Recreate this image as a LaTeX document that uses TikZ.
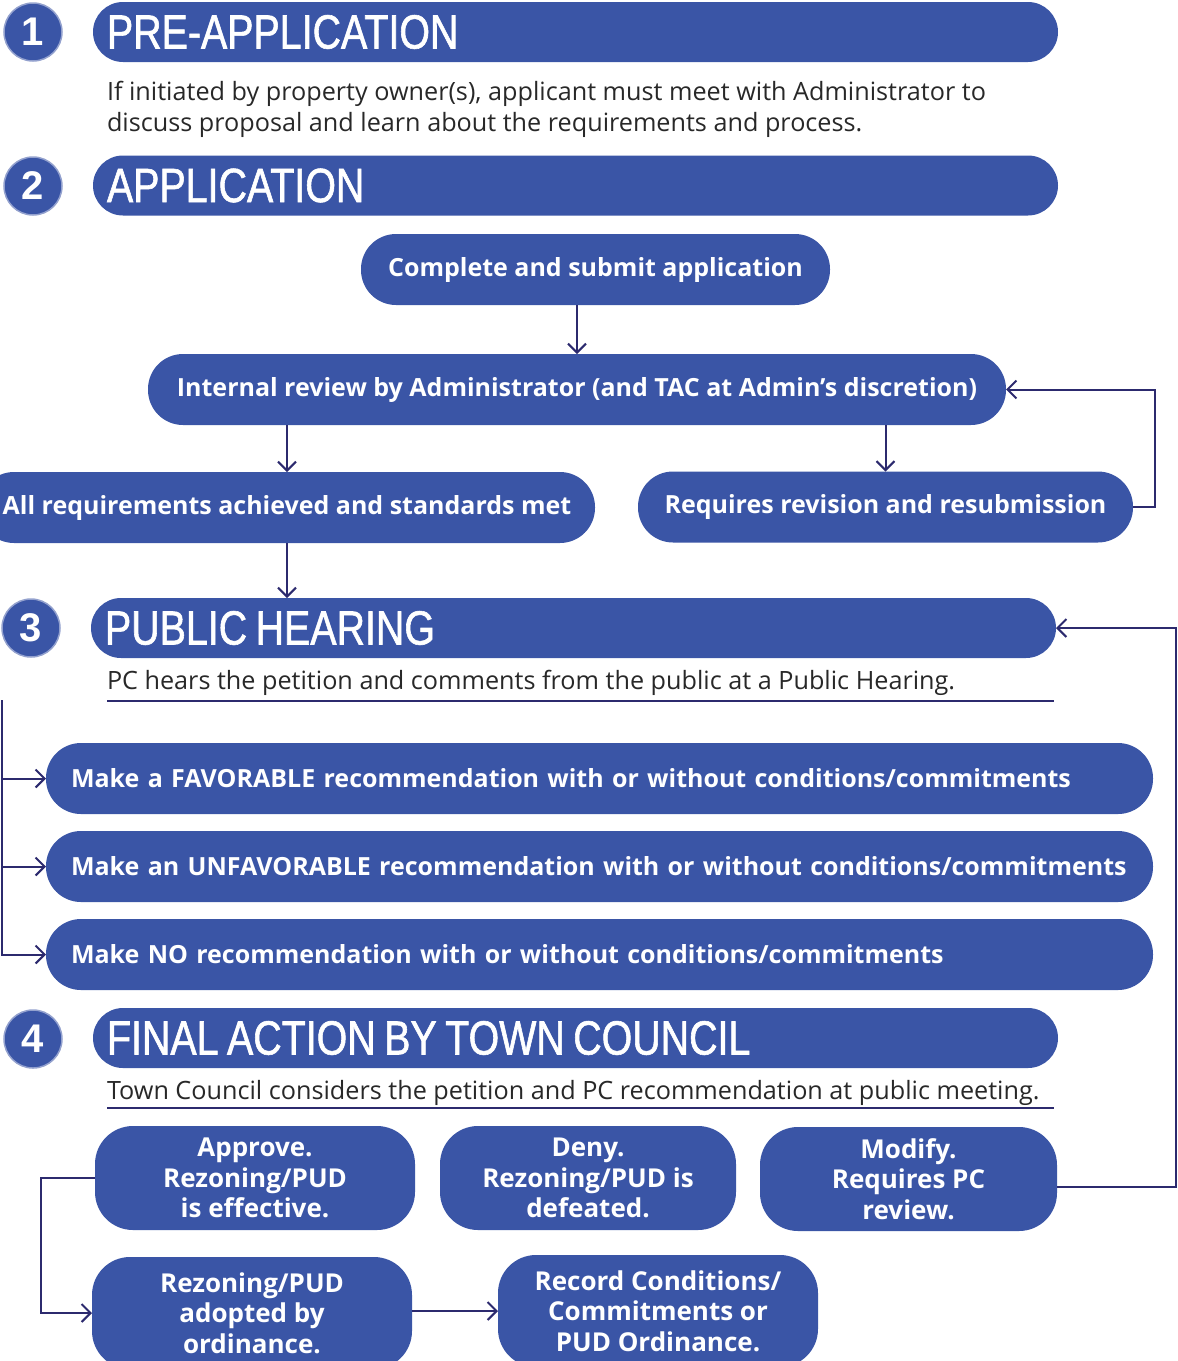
\documentclass[tikz,border=0pt]{standalone}
\usepackage{fontspec}
\setmainfont{Open Sans}
\newfontfamily\titlefont[FakeStretch=0.82,FakeBold=1.2]{Liberation Sans}
\newfontfamily\numfont{Liberation Sans}
\newcommand\tsp{\hspace{8.5pt}}
\usetikzlibrary{arrows.meta,calc}
\definecolor{boxblue}{RGB}{58,85,166}
\definecolor{linenavy}{RGB}{44,42,110}
\definecolor{txtgray}{RGB}{40,40,40}
\begin{document}
\begin{tikzpicture}[x=1pt,y=-1pt,
  every node/.style={inner sep=0pt, outer sep=0pt},
  numcirc/.style={circle, fill=boxblue, draw=boxblue!55, line width=1.5pt, minimum size=58pt, text=white, font=\numfont\bfseries\fontsize{40}{40}\selectfont},
  titlebar/.style={fill=boxblue, rounded corners=30pt, minimum height=60pt, text width=937pt, inner xsep=14pt, align=left, text=white, font=\titlefont\fontsize{48}{48}\selectfont},
  desc/.style={text=txtgray, align=left, anchor=west, font=\fontsize{25.2}{31}\selectfont},
  pill/.style={fill=boxblue, rounded corners=35pt, minimum height=71pt, text=white, align=center, font=\bfseries\fontsize{25}{28}\selectfont},
  recbox/.style={fill=boxblue, rounded corners=35pt, minimum height=71pt, text width=1057pt, inner xsep=25pt, align=left, text=white, font=\bfseries\fontsize{25}{28}\selectfont},
  tallbox/.style={fill=boxblue, rounded corners=38pt, text=white, align=center, font=\bfseries\fontsize{26}{30.5}\selectfont},
  conn/.style={draw=linenavy, line width=2pt, -{Straight Barb[length=9pt,width=18pt,line width=2pt]}},
  plainline/.style={draw=linenavy, line width=2pt}
]
\useasboundingbox (0,0) rectangle (1178,1361);

% Section 1
\node[numcirc] (n1) at (33,32) {1};
\node[titlebar, anchor=west] (t1) at (93,32) {PRE-APPLICATION};
\node[desc] (d1) at (107,109) {If initiated by property owner(s), applicant must meet with Administrator to\\discuss proposal and learn about the requirements and process.};

% Section 2
\node[numcirc] (n2) at (33,186) {2};
\node[titlebar, anchor=west] (t2) at (93,185.5) {APPLICATION};

\node[pill, minimum width=469pt] (complete) at (595.5,269.5) {Complete and submit application};
\node[pill, minimum width=858pt] (internal) at (577,389.5) {Internal review by Administrator (and TAC at Admin’s discretion)};
\node[pill, minimum width=616pt] (allreq) at (287,507.5) {All requirements achieved and standards met};
\node[pill, minimum width=495pt] (revision) at (885.5,507) {Requires revision and resubmission};

\draw[conn] (complete.south -| internal.north) -- (internal.north);
\draw[conn] (allreq.north |- internal.south) -- (allreq.north);
\draw[conn] (revision.north |- internal.south) -- (revision.north);
\draw[conn] (revision.east) -- ++(22,0) |- (internal.east);

% Section 3
\node[numcirc] (n3) at (31,628) {3};
\node[titlebar, anchor=west] (t3) at (91,628) {PUBLIC\tsp HEARING};
\node[desc] (d3) at (107,683) {PC hears the petition and comments from the public at a Public Hearing.};
\draw[plainline] (107,701) -- (1054,701);

\draw[conn] (allreq.south) -- (allreq.south |- t3.north);

\node[recbox, anchor=west] (r1) at (46,778.5) {Make a FAVORABLE recommendation with or without conditions/commitments};
\node[recbox, anchor=west] (r2) at (46,866.5) {Make an UNFAVORABLE recommendation with or without conditions/commitments};
\node[recbox, anchor=west] (r3) at (46,954.5) {Make NO recommendation with or without conditions/commitments};

\coordinate (lb) at (2,700);
\draw[conn] (lb) |- (r3.west);
\draw[conn] (lb |- r1.west) -- (r1.west);
\draw[conn] (lb |- r2.west) -- (r2.west);

% Section 4
\node[numcirc] (n4) at (33,1039) {4};
\node[titlebar, anchor=west] (t4) at (93,1038) {FINAL\tsp ACTION\tsp BY\tsp TOWN\tsp COUNCIL};
\node[desc] (d4) at (107,1093) {Town Council considers the petition and PC recommendation at public meeting.};
\draw[plainline] (107,1108) -- (1054,1108);

\node[tallbox, minimum width=320pt, minimum height=104pt] (approve) at (255,1178) {Approve.\\Rezoning/PUD\\is effective.};
\node[tallbox, minimum width=296pt, minimum height=104pt] (deny) at (588,1178) {Deny.\\Rezoning/PUD is\\defeated.};
\node[tallbox, minimum width=297pt, minimum height=104pt] (modify) at (908.5,1179) {Modify.\\Requires PC\\review.};
\node[tallbox, minimum width=320pt, minimum height=112pt] (adopted) at (252,1313) {Rezoning/PUD\\adopted by\\ordinance.};
\node[tallbox, minimum width=320pt, minimum height=112pt] (record) at (658,1311) {Record Conditions/\\Commitments or\\PUD Ordinance.};

\coordinate (rr) at (1176,628);
\draw[conn] ([yshift=-8pt]modify.east) -| (rr) -- (t3.east);
\draw[conn] (approve.west) -- ++(-54,0) |- (adopted.west);
\draw[conn] ([yshift=2pt]adopted.east) -- ([yshift=2pt]adopted.east -| record.west);
\end{tikzpicture}
\end{document}
